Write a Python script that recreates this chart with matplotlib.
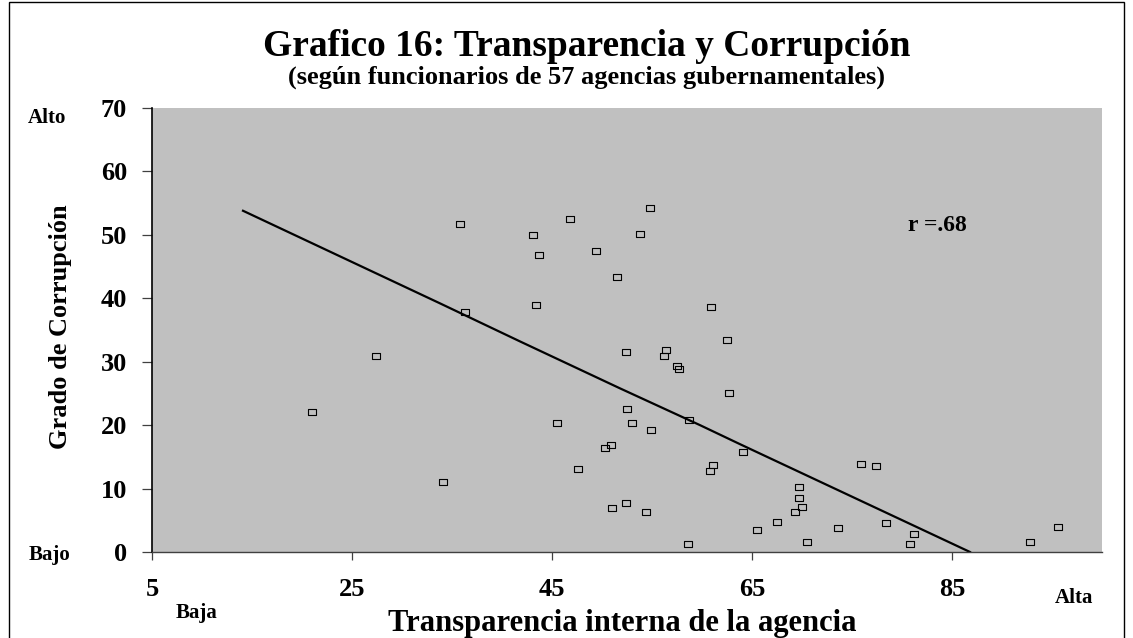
import matplotlib
matplotlib.use("Agg")
import matplotlib.pyplot as plt
from matplotlib.path import Path
from matplotlib.patches import Rectangle

# ---- data ----
transparencia = [35.8, 36.3, 27.4, 21.0, 34.1, 46.8, 54.8, 43.1, 53.8, 43.7,
                 49.4, 51.5, 43.4, 60.9, 62.5, 52.4, 56.4, 56.2, 57.5, 57.7,
                 62.7, 52.5, 53.0, 45.5, 54.9, 58.7, 50.9, 50.3, 61.1, 60.8,
                 47.6, 52.4, 51.0, 54.4, 58.6, 64.1, 75.9, 77.4, 69.7, 69.7,
                 70.0, 69.3, 67.5, 65.5, 73.6, 70.5, 78.4, 81.2, 80.8, 92.8,
                 95.6]
corrupcion = [51.7, 37.9, 30.9, 22.1, 11.0, 52.5, 54.3, 49.9, 50.2, 46.8,
              47.5, 43.4, 38.9, 38.6, 33.5, 31.6, 31.8, 30.9, 29.4, 28.8,
              25.1, 22.5, 20.4, 20.3, 19.3, 20.8, 16.8, 16.4, 13.7, 12.8,
              13.1, 7.8, 6.9, 6.3, 1.26, 15.8, 13.9, 13.6, 10.2, 8.5,
              7.1, 6.3, 4.8, 3.5, 3.8, 1.6, 4.5, 2.9, 1.26, 1.58,
              3.94]
trend_x = [14.1, 33.8, 41.8, 51.8, 59.8, 63.8, 86.8]
trend_y = [53.8, 39.2, 33.2, 25.8, 20.0, 17.0, 0.0]
x_ticks = [5, 25, 45, 65, 85]
y_ticks = [0, 10, 20, 30, 40, 50, 60, 70]

W, H = 1133, 638
fig = plt.figure(figsize=(W / 100, H / 100), dpi=100)
fig.patch.set_facecolor("white")
serif = ["Liberation Serif", "DejaVu Serif"]

L, R, T, B = 152, 1102, 108, 552
ax = fig.add_axes([L / W, 1 - B / H, (R - L) / W, (B - T) / H])
ax.set_facecolor("#C0C0C0")
ax.set_xlim(5, 100)
ax.set_ylim(0, 70)

rect_marker = Path([(-1.4, -1), (1.4, -1), (1.4, 1), (-1.4, 1), (-1.4, -1)],
                   [Path.MOVETO, Path.LINETO, Path.LINETO, Path.LINETO, Path.CLOSEPOLY])
ax.plot(transparencia, corrupcion, linestyle="none", marker=rect_marker,
        markersize=5.2, markerfacecolor="none", markeredgecolor="black",
        markeredgewidth=0.8, zorder=3)
ax.plot(trend_x, trend_y, color="black", linewidth=1.6, zorder=2)

for s in ["top", "right"]:
    ax.spines[s].set_visible(False)
ax.spines["left"].set_color("black")
ax.spines["left"].set_linewidth(1.2)
ax.spines["bottom"].set_color("#404040")
ax.spines["bottom"].set_linewidth(1.0)

ax.set_xticks(x_ticks)
ax.set_yticks(y_ticks)
ax.tick_params(axis="y", length=7, width=0.9, color="#404040", pad=11)
ax.tick_params(axis="x", length=6, width=0.9, color="#404040", pad=13)
for lab in ax.get_xticklabels() + ax.get_yticklabels():
    lab.set_family(serif)
    lab.set_fontweight("bold")
    lab.set_fontsize(19)

def ftxt(x, y, s, size, **kw):
    fig.text(x / W, 1 - y / H, s, fontsize=size, fontweight="bold",
             family=serif, **kw)

ftxt(587, 56, "Grafico 16: Transparencia y Corrupción", 27,
     ha="center", va="baseline")
ftxt(587, 84, "(según funcionarios de 57 agencias gubernamentales)", 19,
     ha="center", va="baseline")
ftxt(622, 631, "Transparencia interna de la agencia", 22,
     ha="center", va="baseline")
ftxt(61, 327, "Grado de Corrupción", 19, ha="center", va="center",
     rotation=90)
ftxt(47, 123, "Alto", 15, ha="center", va="baseline")
ftxt(50, 560, "Bajo", 15, ha="center", va="baseline")
ftxt(197, 618, "Baja", 15, ha="center", va="baseline")
ftxt(1074, 603, "Alta", 15, ha="center", va="baseline")

ax.text(83.5, 51.4, "r =.68", fontsize=17, fontweight="bold", family=serif,
        ha="center", va="center")

# outer frame
fig.add_artist(Rectangle((9 / W, -0.01), (1124 - 9) / W, 1.01 - 2 / H,
                         transform=fig.transFigure, fill=False,
                         edgecolor="black", linewidth=1.0))

fig.savefig("out.png", dpi=100, facecolor="white")
